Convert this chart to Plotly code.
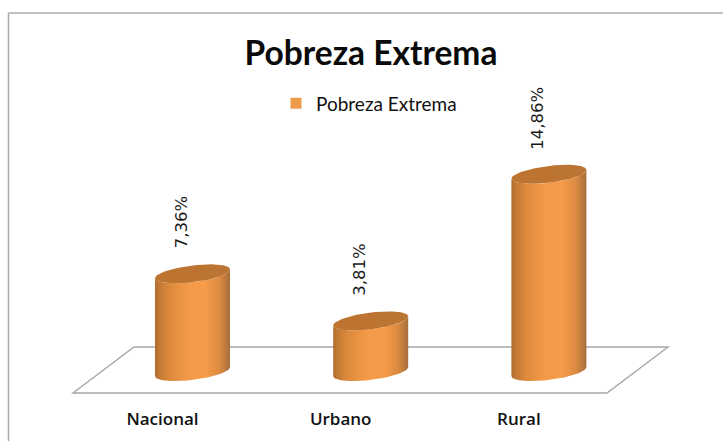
import numpy as np
import plotly.graph_objects as go

categories = ["Nacional", "Urbano", "Rural"]
values = [7.36, 3.81, 14.86]
labels = ["7,36%", "3,81%", "14,86%"]
series_name = "Pobreza Extrema"

W, H = 723, 441
BOTTOM = 34
PX_X0, PX_DX = 192.5, 178.2      # pixel of category 0, pixels per category
PX_Y0, PX_DY = 371.5, 13.27      # pixel of value 0, pixels per unit

def ux(px):
    return (px - PX_X0) / PX_DX

def uy(py):
    return (PX_Y0 - py) / PX_DY

A = 37.5 / PX_DX       # half width
B = 8.4 / PX_DY        # ellipse half height
S = 4.5 / PX_DY        # ellipse tilt
LBL_DX = -30 / PX_DX

side_scale = [[0, "#B06C2E"], [0.06, "#C27A35"], [0.2, "#DE8A3C"], [0.45, "#F39A49"],
              [0.68, "#F59B49"], [0.86, "#DC8B42"], [0.95, "#B9783E"], [1, "#A56E3C"]]
top_scale = [[0, "#BE7430"], [0.5, "#BD7431"], [1, "#BA7433"]]

fig = go.Figure()

t_low = np.linspace(np.pi, 2 * np.pi, 40)     # front half of the ellipse, left to right
t_all = np.linspace(0, 2 * np.pi, 80)

for i, v in enumerate(values):
    bx = i + A * np.cos(t_low)
    by = B * np.sin(t_low) + S * np.cos(t_low)
    xs = np.r_[bx, bx[::-1]]
    ys = np.r_[by, v + by[::-1]]
    fig.add_trace(go.Scatter(x=np.r_[xs, xs[0]], y=np.r_[ys, ys[0]], mode="lines",
                             line=dict(width=0), fill="toself",
                             fillgradient=dict(type="horizontal", colorscale=side_scale),
                             showlegend=False, hoverinfo="skip"))
    fig.add_trace(go.Scatter(x=i + A * np.cos(t_all),
                             y=v + B * np.sin(t_all) + S * np.cos(t_all),
                             mode="lines", line=dict(width=0), fill="toself",
                             fillgradient=dict(type="horizontal", colorscale=top_scale),
                             showlegend=False, hoverinfo="skip"))

fig.add_trace(go.Scatter(x=[None], y=[None], mode="markers", name=series_name,
                         marker=dict(symbol="square", size=11, color="#F09A4C")))

for i, (v, lab) in enumerate(zip(values, labels)):
    fig.add_annotation(x=i, y=v, text=lab, textangle=-90, showarrow=False,
                       xanchor="center", yanchor="bottom", xshift=-11, yshift=23,
                       font=dict(family="DejaVu Sans", size=16.5, color="#1a1a1a"))

floor = [(73, 393), (134, 347), (668, 347), (607, 393), (73, 393)]
path = "M " + " L ".join(f"{ux(a):.4f},{uy(b):.4f}" for a, b in floor) + " Z"

fig.update_layout(
    width=W, height=H, autosize=False,
    margin=dict(l=0, r=0, t=0, b=BOTTOM, autoexpand=False, pad=0),
    paper_bgcolor="white", plot_bgcolor="white",
    title=dict(text="<b>" + series_name + "</b>", x=371 / W, xanchor="center",
               y=1 - 53 / H, yanchor="middle",
               font=dict(family="Lato", size=33.5, color="#0a0a0a")),
    legend=dict(x=276 / W, xanchor="left", y=1 - 112 / H, yanchor="middle",
                bgcolor="rgba(0,0,0,0)", font=dict(family="Lato", size=19, color="#111111"),
                itemwidth=30, tracegroupgap=0),
    xaxis=dict(range=[ux(0), ux(W)], showgrid=False, zeroline=False, showline=False,
               tickmode="array", tickvals=[i + LBL_DX for i in range(3)], ticktext=categories,
               ticks="", ticklen=0,
               tickfont=dict(family="Open Sans", size=17, color="#111111", weight=600)),
    yaxis=dict(range=[uy(H - BOTTOM), uy(0)], visible=False, showgrid=False, zeroline=False),
    shapes=[
        dict(type="path", path=path, xref="x", yref="y", layer="below",
             line=dict(color="#A6A6A6", width=1.4)),
        dict(type="line", xref="paper", yref="paper", x0=8.5 / W, x1=1, y0=1 - 13 / (H - BOTTOM),
             y1=1 - 13 / (H - BOTTOM), line=dict(color="#ABABAB", width=1.5)),
        dict(type="line", xref="paper", yref="paper", x0=8.5 / W, x1=8.5 / W, y0=1 - 13 / (H - BOTTOM),
             y1=-0.1, line=dict(color="#ABABAB", width=1.5)),
    ],
)

fig.write_html("out.html", config=dict(displayModeBar=False),
               post_script="document.body.style.margin='0';document.documentElement.style.overflow='hidden';")
